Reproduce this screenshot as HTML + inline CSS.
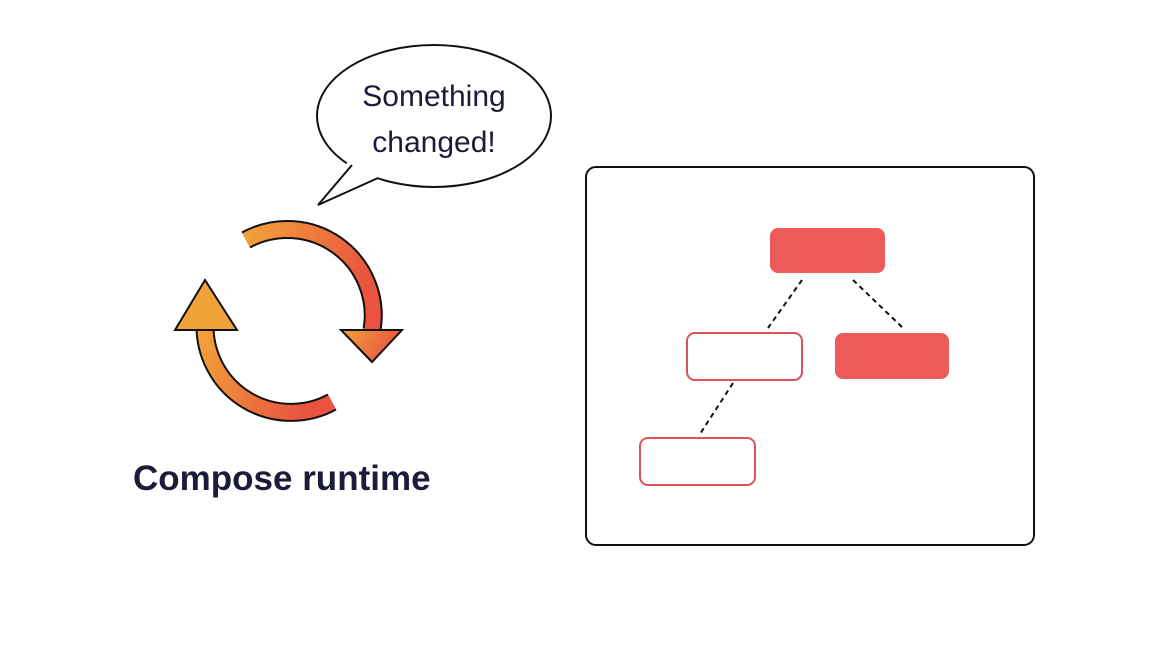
<!DOCTYPE html>
<html><head><style>
html,body{margin:0;padding:0;background:#fff;}
body{width:1161px;height:645px;position:relative;overflow:hidden;font-family:"Liberation Sans",sans-serif;}
</style></head><body>
<svg width="1161" height="645" style="position:absolute;left:0;top:0">
<defs>
<linearGradient id="g" x1="0" y1="0" x2="1" y2="0.3">
<stop offset="0" stop-color="#f2a23a"/><stop offset="1" stop-color="#e9533f"/>
</linearGradient>
</defs>
<!-- speech bubble -->
<ellipse cx="434" cy="116" rx="117" ry="71" fill="#fff" stroke="#111" stroke-width="2"/>
<polygon points="349,160 318,205 383,175 370,160" fill="#fff"/>
<polyline points="352,165 318,205 378,178" fill="none" stroke="#111" stroke-width="2" stroke-linejoin="miter"/>
<text x="434" y="106" font-size="30" fill="#1c1c3a" text-anchor="middle" font-family="Liberation Sans, sans-serif">Something</text>
<text x="434" y="152" font-size="30" fill="#1c1c3a" text-anchor="middle" font-family="Liberation Sans, sans-serif">changed!</text>
<!-- arrows -->
<g stroke-linejoin="miter">
<path d="M246,240 A86,86 0 0 1 372,330" fill="none" stroke="#111" stroke-width="19"/>
<path d="M246,240 A86,86 0 0 1 372,330" fill="none" stroke="url(#g)" stroke-width="15"/>
<path d="M341,330 L402,330 L372,362 Z" fill="url(#g)" stroke="#111" stroke-width="2"/>
<path d="M332,402 A86,86 0 0 1 205,326" fill="none" stroke="#111" stroke-width="19"/>
<path d="M332,402 A86,86 0 0 1 205,326" fill="none" stroke="url(#g)" stroke-width="15"/>
<path d="M175,330 L237,330 L205,280 Z" fill="#f2a23a" stroke="#111" stroke-width="2"/>
</g>
<text x="133" y="490" font-size="35" font-weight="bold" fill="#1c1c3a" font-family="Liberation Sans, sans-serif">Compose runtime</text>
<!-- box -->
<rect x="586" y="167" width="448" height="378" rx="10" fill="#fff" stroke="#111" stroke-width="2"/>
<g stroke="#111" stroke-width="2" stroke-dasharray="5,4">
<line x1="802" y1="280" x2="768" y2="328"/>
<line x1="853" y1="280" x2="903" y2="328"/>
<line x1="733" y1="383" x2="700" y2="434"/>
</g>
<rect x="770" y="228" width="115" height="45" rx="8" fill="#ec5a5a"/>
<rect x="835" y="333" width="114" height="46" rx="8" fill="#ec5a5a"/>
<rect x="687" y="333" width="115" height="47" rx="8" fill="#fff" stroke="#e0505a" stroke-width="2"/>
<rect x="640" y="438" width="115" height="47" rx="8" fill="#fff" stroke="#e0505a" stroke-width="2"/>
</svg>
</body></html>
